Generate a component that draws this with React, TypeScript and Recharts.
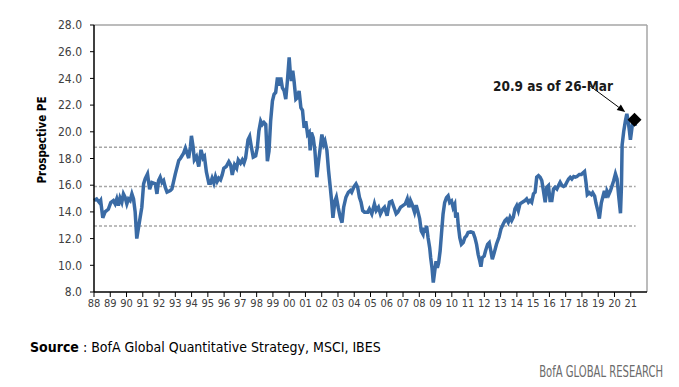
import React from 'react';
import { LineChart, Line, XAxis, YAxis, ReferenceLine, ReferenceDot } from 'recharts';

// MSCI (global) prospective PE, decimal years
const dates = [
  1988.0, 1988.16, 1988.33, 1988.41, 1988.54, 1988.68, 1988.88, 1989.03, 1989.19, 1989.3,
  1989.4, 1989.5, 1989.6, 1989.71, 1989.81, 1989.91, 1990.02, 1990.12, 1990.22, 1990.33,
  1990.43, 1990.53, 1990.63, 1990.74, 1990.84, 1990.94, 1991.05, 1991.15, 1991.29, 1991.42,
  1991.56, 1991.77, 1991.87, 1991.97, 1992.07, 1992.18, 1992.28, 1992.38, 1992.49, 1992.69,
  1992.79, 1993.0, 1993.21, 1993.31, 1993.51, 1993.62, 1993.72, 1993.82, 1993.93, 1993.99,
  1994.09, 1994.17, 1994.3, 1994.44, 1994.58, 1994.71, 1994.79, 1994.91, 1995.06, 1995.16,
  1995.26, 1995.37, 1995.47, 1995.57, 1995.67, 1995.78, 1995.88, 1995.98, 1996.13, 1996.29,
  1996.4, 1996.5, 1996.64, 1996.77, 1996.87, 1997.01, 1997.12, 1997.22, 1997.32, 1997.47,
  1997.57, 1997.67, 1997.79, 1997.94, 1998.04, 1998.14, 1998.25, 1998.35, 1998.45, 1998.56,
  1998.66, 1998.76, 1998.86, 1998.97, 1999.07, 1999.17, 1999.28, 1999.38, 1999.48, 1999.58,
  1999.69, 1999.79, 1999.89, 2000.0, 2000.06, 2000.14, 2000.22, 2000.3, 2000.41, 2000.51,
  2000.61, 2000.72, 2000.82, 2000.92, 2001.02, 2001.13, 2001.23, 2001.29, 2001.37, 2001.48,
  2001.58, 2001.7, 2001.81, 2001.91, 2002.01, 2002.12, 2002.2, 2002.32, 2002.42, 2002.53,
  2002.61, 2002.69, 2002.81, 2002.9, 2003.02, 2003.14, 2003.25, 2003.35, 2003.49, 2003.64,
  2003.76, 2003.84, 2003.97, 2004.11, 2004.21, 2004.32, 2004.42, 2004.52, 2004.63, 2004.83,
  2004.93, 2005.08, 2005.24, 2005.35, 2005.49, 2005.61, 2005.76, 2005.86, 2006.02, 2006.17,
  2006.31, 2006.44, 2006.58, 2006.68, 2006.85, 2006.99, 2007.14, 2007.26, 2007.36, 2007.46,
  2007.55, 2007.71, 2007.81, 2007.92, 2008.02, 2008.12, 2008.23, 2008.29, 2008.37, 2008.45,
  2008.54, 2008.64, 2008.7, 2008.78, 2008.86, 2008.95, 2009.03, 2009.11, 2009.19, 2009.28,
  2009.36, 2009.46, 2009.56, 2009.67, 2009.77, 2009.87, 2009.98, 2010.08, 2010.18, 2010.24,
  2010.33, 2010.39, 2010.49, 2010.59, 2010.7, 2010.8, 2010.9, 2011.0, 2011.17, 2011.31,
  2011.42, 2011.52, 2011.62, 2011.72, 2011.79, 2011.87, 2011.99, 2012.07, 2012.2, 2012.3,
  2012.4, 2012.49, 2012.61, 2012.75, 2012.9, 2013.02, 2013.16, 2013.27, 2013.37, 2013.47,
  2013.58, 2013.68, 2013.78, 2013.88, 2013.99, 2014.09, 2014.19, 2014.34, 2014.5, 2014.6,
  2014.71, 2014.81, 2014.91, 2015.02, 2015.12, 2015.22, 2015.33, 2015.43, 2015.53, 2015.63,
  2015.74, 2015.84, 2015.94, 2016.04, 2016.15, 2016.25, 2016.35, 2016.46, 2016.56, 2016.66,
  2016.77, 2016.87, 2016.97, 2017.07, 2017.18, 2017.28, 2017.38, 2017.49, 2017.59, 2017.69,
  2017.84, 2017.96, 2018.04, 2018.16, 2018.25, 2018.33, 2018.45, 2018.58, 2018.66, 2018.78,
  2018.86, 2018.99, 2019.07, 2019.19, 2019.3, 2019.38, 2019.48, 2019.54, 2019.65, 2019.75,
  2019.85, 2019.95, 2020.06, 2020.16, 2020.26, 2020.37, 2020.43, 2020.47, 2020.57, 2020.67,
  2020.76, 2020.84, 2020.92, 2020.98, 2021.05, 2021.13, 2021.19, 2021.29,
];

const pe = [
  14.85, 14.97, 14.7, 14.85, 13.55, 14.0, 14.2, 14.7, 14.85, 14.6,
  14.97, 14.47, 15.05, 14.72, 15.35, 15.1, 14.6, 14.97, 14.85, 15.35,
  14.97, 14.0, 12.0, 12.85, 13.6, 14.35, 16.1, 16.5, 16.85, 15.7,
  16.2, 16.1, 15.35, 16.35, 16.6, 16.2, 16.35, 15.85, 15.48, 15.6,
  15.72, 16.85, 17.85, 18.0, 18.4, 18.77, 18.4, 18.03, 18.9, 19.7,
  18.9, 17.9, 18.15, 17.4, 18.65, 18.03, 18.15, 17.0, 16.15, 16.15,
  16.53, 16.15, 16.65, 16.28, 16.53, 16.4, 16.77, 17.27, 17.4, 17.77,
  17.53, 16.77, 17.53, 17.27, 17.9, 17.65, 17.9, 17.65, 18.03, 19.4,
  19.65, 18.9, 18.1, 18.2, 18.8, 20.07, 20.8, 20.55, 20.7, 20.55,
  17.8, 18.55, 20.8, 22.3, 22.8, 22.95, 24.07, 23.45, 24.07, 23.3,
  23.07, 22.45, 23.8, 25.57, 24.57, 23.8, 24.57, 23.8, 22.45, 22.57,
  23.07, 21.8, 21.6, 20.3, 20.8, 19.8, 19.95, 18.6, 19.95, 19.55,
  18.6, 16.6, 17.8, 18.8, 19.8, 19.07, 19.3, 18.6, 17.1, 15.8,
  14.8, 13.55, 14.8, 15.1, 14.3, 13.6, 13.2, 14.35, 15.1, 15.47,
  15.6, 15.47, 15.85, 16.1, 15.85, 15.1, 14.72, 14.1, 13.98, 13.98,
  14.22, 13.85, 14.6, 14.1, 14.35, 13.85, 14.22, 14.35, 13.72, 14.72,
  14.8, 14.35, 13.85, 13.97, 14.35, 14.47, 14.6, 14.97, 14.35, 14.85,
  14.6, 13.97, 14.5, 14.0, 13.5, 12.57, 12.32, 12.82, 12.45, 12.95,
  12.07, 11.3, 10.57, 9.82, 8.7, 9.57, 10.3, 9.82, 10.2, 11.07,
  12.3, 13.82, 14.7, 15.07, 15.2, 14.7, 14.82, 14.32, 14.57, 13.57,
  13.95, 13.07, 12.07, 11.57, 11.7, 12.07, 12.2, 12.45, 12.5, 12.45,
  12.07, 11.57, 10.82, 10.32, 9.9, 10.57, 10.7, 11.07, 11.57, 11.7,
  11.07, 10.45, 10.95, 11.6, 12.1, 12.72, 13.1, 13.35, 13.47, 13.22,
  13.6, 13.35, 13.6, 14.22, 14.47, 14.1, 14.6, 14.72, 14.85, 14.97,
  14.72, 14.85, 14.72, 15.35, 15.47, 16.6, 16.72, 16.6, 16.35, 15.6,
  14.72, 15.85, 15.97, 14.85, 14.85, 15.72, 15.85, 15.72, 15.97, 16.22,
  15.97, 15.9, 15.97, 16.22, 16.47, 16.6, 16.47, 16.65, 16.6, 16.65,
  16.8, 16.8, 16.9, 17.03, 16.2, 15.3, 15.44, 15.3, 15.44, 15.18,
  14.67, 14.03, 13.5, 14.67, 15.2, 15.57, 15.05, 15.57, 15.3, 15.57,
  15.95, 16.33, 16.85, 16.46, 15.18, 13.9, 15.95, 19.0, 20.05, 20.8,
  21.35, 20.8, 20.05, 19.4, 20.05, 20.8, 21.07, 20.45,
];

const yearTicks = Array.from({ length: 34 }, (_, i) => 1988 + i);
const peTicks = [8, 10, 12, 14, 16, 18, 20, 22, 24, 26, 28];

// long-run average and +/- 1 standard deviation
const avgPE = 15.9;
const upperSD = 18.85;
const lowerSD = 12.95;

const latestDate = 2021.23;
const latestPE = 20.9;
const latestLabel = '20.9 as of 26-Mar';

const chartData = dates.map((d, i) => ({ date: d, pe: pe[i] }));

const narrow = "'Liberation Sans Narrow', 'DejaVu Sans Condensed', 'Liberation Sans', sans-serif";

const Arrow = (p: any) => {
  const { x1, y1, x2, y2 } = p;
  const a = Math.atan2(y2 - y1, x2 - x1);
  const len = 8;
  const w = 3.5;
  const bx = x2 - len * Math.cos(a);
  const by = y2 - len * Math.sin(a);
  const pts = `${x2},${y2} ${bx - w * Math.sin(a)},${by + w * Math.cos(a)} ${bx + w * Math.sin(a)},${by - w * Math.cos(a)}`;
  return (
    <g>
      <line x1={x1} y1={y1} x2={bx} y2={by} stroke="#000" strokeWidth={1} />
      <polygon points={pts} fill="#000" />
    </g>
  );
};

const Diamond = (p: any) => {
  const { cx, cy } = p;
  const s = 7;
  return <polygon points={`${cx},${cy - s} ${cx + s},${cy} ${cx},${cy + s} ${cx - s},${cy}`} fill="#000" />;
};

export default function App() {
  const bandStyle = { stroke: '#a6a6a6', strokeWidth: 1.5, strokeDasharray: '3 2' };
  return (
    <div style={{ position: 'absolute', left: 0, top: 0, width: 679, height: 387, background: '#fff' }}>
      <LineChart
        width={679}
        height={387}
        data={chartData}
        margin={{ top: 25, right: 32, left: 0, bottom: 65 }}
      >
        <XAxis
          dataKey="date"
          type="number"
          domain={[1988, 2022]}
          ticks={yearTicks}
          interval={0}
          tickFormatter={(v: number) => String(v % 100).padStart(2, '0')}
          axisLine={{ stroke: '#000', strokeWidth: 1.5 }}
          tickLine={{ stroke: '#000' }}
          tickSize={5}
          height={30}
          tick={{ fill: '#404040', fontSize: 11, fontFamily: narrow }}
        />
        <YAxis
          type="number"
          domain={[8, 28]}
          ticks={peTicks}
          interval={0}
          tickFormatter={(v: number) => v.toFixed(1)}
          axisLine={{ stroke: '#000', strokeWidth: 1.5 }}
          tickLine={{ stroke: '#000' }}
          tickSize={4}
          tickMargin={8}
          width={94}
          tick={{ fill: '#404040', fontSize: 12, fontFamily: narrow }}
        />
        <ReferenceLine y={28} stroke="#a6a6a6" strokeWidth={1.5} />
        <ReferenceLine x={2022} stroke="#a6a6a6" strokeWidth={1.5} />
        <ReferenceLine segment={[{ x: 1988, y: upperSD }, { x: 2021.3, y: upperSD }]} {...bandStyle} />
        <ReferenceLine segment={[{ x: 1988, y: avgPE }, { x: 2021.3, y: avgPE }]} {...bandStyle} />
        <ReferenceLine segment={[{ x: 1988, y: lowerSD }, { x: 2021.3, y: lowerSD }]} {...bandStyle} />
        <Line
          type="linear"
          dataKey="pe"
          stroke="#3a6ba5"
          strokeWidth={3.5}
          dot={false}
          isAnimationActive={false}
        />
        <ReferenceLine segment={[{ x: 2018.5, y: 23.43 }, { x: 2020.66, y: 21.48 }]} shape={Arrow} />
        <ReferenceDot x={latestDate} y={latestPE} r={7} shape={Diamond} />
      </LineChart>

      <div
        style={{
          position: 'absolute', left: 493, top: 78, fontFamily: narrow, fontWeight: 'bold',
          fontSize: 13.5, color: '#1a1a1a', whiteSpace: 'nowrap',
        }}
      >
        {latestLabel}
      </div>
      <div
        style={{
          position: 'absolute', left: 42, top: 140, transform: 'translate(-50%, -50%) rotate(-90deg)',
          fontFamily: narrow, fontWeight: 'bold', fontSize: 11.5, color: '#000', whiteSpace: 'nowrap',
        }}
      >
        Prospective PE
      </div>
      <div
        style={{
          position: 'absolute', left: 30, top: 339, fontFamily: narrow, fontSize: 14,
          color: '#000', whiteSpace: 'nowrap',
        }}
      >
        <b>Source</b> : BofA Global Quantitative Strategy, MSCI, IBES
      </div>
      <div
        style={{
          position: 'absolute', right: 16, top: 363, fontFamily: narrow, fontSize: 15.5,
          color: '#6b6b6b', whiteSpace: 'nowrap', transform: 'scaleX(0.72)', transformOrigin: 'right center',
        }}
      >
        BofA GLOBAL RESEARCH
      </div>
    </div>
  );
}
